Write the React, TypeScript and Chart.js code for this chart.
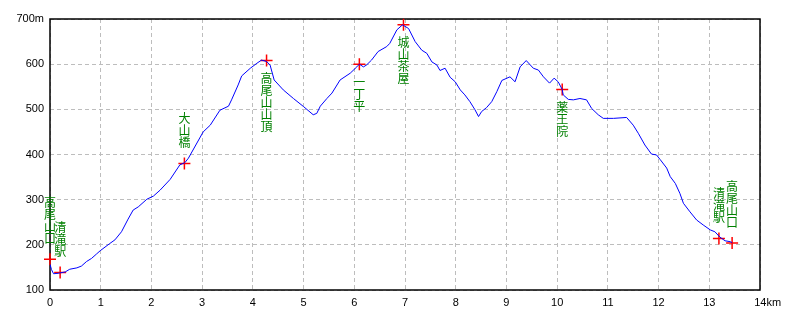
import React, { useEffect, useRef } from "react";
import { Chart, registerables } from "chart.js";

Chart.register(...registerables);

// Elevation profile: distance (km) and elevation (m)
const distanceKm = [
  0.0, 0.03, 0.07, 0.16, 0.3, 0.39, 0.53, 0.62, 0.72, 0.82, 0.92, 0.99, 1.18, 1.28, 1.41, 1.54, 1.64, 1.74,
  1.91, 2.04, 2.17, 2.37, 2.56, 2.66, 2.73, 3.02, 3.16, 3.35, 3.52, 3.58, 3.71, 3.78, 3.95, 4.08, 4.17, 4.27,
  4.34, 4.42, 4.6, 4.8, 5.0, 5.19, 5.26, 5.33, 5.46, 5.56, 5.72, 5.92, 6.05, 6.1, 6.18, 6.24, 6.34, 6.47,
  6.64, 6.7, 6.84, 6.95, 7.07, 7.2, 7.33, 7.43, 7.53, 7.63, 7.69, 7.79, 7.89, 7.99, 8.09, 8.18, 8.28, 8.38,
  8.45, 8.51, 8.61, 8.71, 8.81, 8.91, 9.07, 9.17, 9.27, 9.39, 9.53, 9.63, 9.73, 9.85, 9.94, 10.02, 10.1,
  10.12, 10.22, 10.32, 10.45, 10.58, 10.68, 10.81, 10.91, 11.11, 11.37, 11.5, 11.6, 11.73, 11.86, 11.96,
  12.03, 12.16, 12.23, 12.33, 12.42, 12.49, 12.62, 12.75, 12.88, 13.02, 13.11, 13.21, 13.31, 13.41, 13.45,
];
const elevationM = [
  157, 145, 136, 137, 140, 146, 149, 153, 163, 170, 180, 187, 203, 211, 229, 257, 277, 284,
  301, 308, 321, 345, 377, 382, 392, 450, 465, 498, 507, 521, 554, 574, 591, 602, 609, 606,
  598, 565, 543, 524, 506, 488, 491, 507, 524, 536, 565, 580, 594, 600, 594, 598, 609, 628,
  639, 646, 676, 687, 679, 650, 631, 624, 605, 598, 586, 591, 571, 561, 543, 532, 517, 499,
  484, 495, 504, 517, 539, 564, 572, 561, 594, 608, 591, 587, 572, 558, 569, 561, 544,
  532, 522, 521, 524, 521, 502, 488, 480, 480, 482, 465, 447, 421, 401, 399,
  389, 370, 351, 336, 314, 292, 273, 255, 244, 233, 229, 217, 209, 207, 205,
];

// Waypoints
const stationNames = ["高尾山口", "清滝駅", "大山橋", "高尾山山頂", "一丁平", "城山茶屋", "薬王院", "清滝駅", "高尾山口"];
const stationKm = [0.0, 0.2, 2.65, 4.27, 6.1, 6.97, 10.1, 13.19, 13.45];
const stationM = [168, 139, 380, 608, 600, 687, 544, 214, 204];

// Axis ticks
const xMin = 0;
const xMax = 14;
const yMin = 100;
const yMax = 700;
const xUnit = "km";
const yUnit = "m";

const labelPlugin = {
  id: "stationLabels",
  beforeDatasetsDraw(chart: any) {
    const { ctx, chartArea } = chart;
    ctx.save();
    ctx.strokeStyle = "#000000";
    ctx.lineWidth = 1.5;
    ctx.strokeRect(chartArea.left, chartArea.top, chartArea.right - chartArea.left, chartArea.bottom - chartArea.top);
    ctx.restore();
  },
  afterDatasetsDraw(chart: any) {
    const { ctx } = chart;
    const meta = chart.getDatasetMeta(1);
    ctx.save();
    ctx.font = '12px "Noto Sans CJK JP"';
    ctx.fillStyle = "#008000";
    ctx.textAlign = "center";
    ctx.textBaseline = "middle";
    meta.data.forEach((pt: any, i: number) => {
      const name = stationNames[i];
      const chars = Array.from(name);
      const n = chars.length;
      const above = stationM[i] < 450;
      chars.forEach((ch, j) => {
        const y = above ? pt.y - 21 - (n - 1 - j) * 12 : pt.y + 18 + j * 12;
        ctx.fillText(ch, pt.x, y);
      });
    });
    ctx.restore();
  },
};

export default function App() {
  const ref = useRef<HTMLCanvasElement | null>(null);
  useEffect(() => {
    if (!ref.current) return;
    const chart = new Chart(ref.current, {
      type: "line",
      data: {
        datasets: [
          {
            label: "elevation",
            data: distanceKm.map((x, i) => ({ x, y: elevationM[i] })),
            borderColor: "#0000ff",
            borderWidth: 1,
            pointRadius: 0,
            tension: 0,
            fill: false,
          },
          {
            type: "scatter",
            label: "stations",
            data: stationKm.map((x, i) => ({ x, y: stationM[i] })),
            pointStyle: "cross",
            pointRadius: 6,
            borderColor: "#ff0000",
            borderWidth: 1.5,
            showLine: false,
            clip: false,
          } as any,
        ],
      },
      options: {
        responsive: false,
        animation: false,
        events: [],
        layout: { padding: { left: 0, right: 40, top: 19, bottom: 0 } },
        plugins: { legend: { display: false }, tooltip: { enabled: false } },
        scales: {
          x: {
            type: "linear",
            min: xMin,
            max: xMax,
            afterFit: (s: any) => {
              s.height = 30;
            },
            grid: { color: "#bdbdbd", drawTicks: false, lineWidth: 1 },
            border: { display: false, dash: [4, 3] },
            ticks: {
              stepSize: 1,
              padding: 6,
              color: "#000",
              font: { family: '"Liberation Sans"', size: 11 },
              callback: (v: any) => (v === xMax ? "     " + v + xUnit : String(v)),
            },
          },
          y: {
            type: "linear",
            min: yMin,
            max: yMax,
            afterFit: (s: any) => {
              s.width = 50;
            },
            grid: { color: "#bdbdbd", drawTicks: false, lineWidth: 1 },
            border: { display: false, dash: [4, 3] },
            ticks: {
              stepSize: 100,
              padding: 6,
              color: "#000",
              font: { family: '"Liberation Sans"', size: 11 },
              callback: (v: any) => (v === yMax ? v + yUnit : String(v)),
            },
          },
        },
      },
      plugins: [labelPlugin],
    });
    return () => chart.destroy();
  }, []);
  return (
    <div style={{ position: "fixed", left: 0, top: 0, width: 800, height: 320, background: "#fff" }}>
      <canvas ref={ref} width={800} height={320} />
    </div>
  );
}
